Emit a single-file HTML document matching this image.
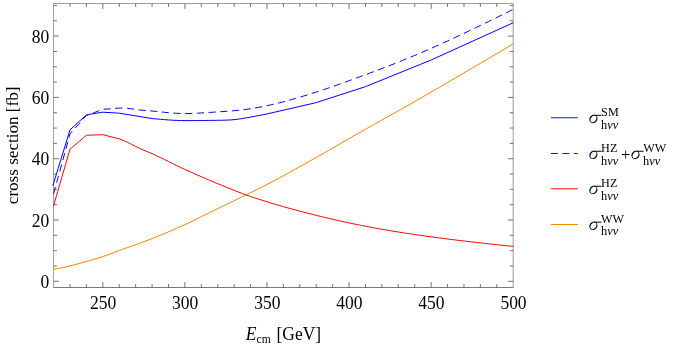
<!DOCTYPE html>
<html><head><meta charset="utf-8"><title>plot</title>
<style>
html,body{margin:0;padding:0;background:#fff;}
svg{display:block;will-change:transform;font-family:"Liberation Serif",serif;font-size:17px;fill:#000;}
</style></head><body>
<svg width="678" height="347" viewBox="0 0 678 347">
<rect width="678" height="347" fill="#fff"/>
<defs><clipPath id="c"><rect x="52.0" y="3.5" width="462.70000000000005" height="284.0"/></clipPath></defs>
<path d="M53.0,3.5 H513.5" fill="none" stroke="#9e9e9e" stroke-width="1"/>
<path d="M53.0,287.5 H513.5" fill="none" stroke="#7a7a7a" stroke-width="1"/>
<path d="M53.5,3.0 V288.0" fill="none" stroke="#a2a2a2" stroke-width="1"/>
<path d="M513.2,3.0 V288.0" fill="none" stroke="#9a9a9a" stroke-width="1"/>
<path d="M70.01,287.5 v-3.4 M70.01,3.5 v3.4 M86.43,287.5 v-3.4 M86.43,3.5 v3.4 M102.84,287.5 v-5.4 M102.84,3.5 v5.4 M119.26,287.5 v-3.4 M119.26,3.5 v3.4 M135.67,287.5 v-3.4 M135.67,3.5 v3.4 M152.09,287.5 v-3.4 M152.09,3.5 v3.4 M168.50,287.5 v-3.4 M168.50,3.5 v3.4 M184.91,287.5 v-5.4 M184.91,3.5 v5.4 M201.33,287.5 v-3.4 M201.33,3.5 v3.4 M217.74,287.5 v-3.4 M217.74,3.5 v3.4 M234.16,287.5 v-3.4 M234.16,3.5 v3.4 M250.57,287.5 v-3.4 M250.57,3.5 v3.4 M266.99,287.5 v-5.4 M266.99,3.5 v5.4 M283.40,287.5 v-3.4 M283.40,3.5 v3.4 M299.81,287.5 v-3.4 M299.81,3.5 v3.4 M316.23,287.5 v-3.4 M316.23,3.5 v3.4 M332.64,287.5 v-3.4 M332.64,3.5 v3.4 M349.06,287.5 v-5.4 M349.06,3.5 v5.4 M365.47,287.5 v-3.4 M365.47,3.5 v3.4 M381.89,287.5 v-3.4 M381.89,3.5 v3.4 M398.30,287.5 v-3.4 M398.30,3.5 v3.4 M414.71,287.5 v-3.4 M414.71,3.5 v3.4 M431.13,287.5 v-5.4 M431.13,3.5 v5.4 M447.54,287.5 v-3.4 M447.54,3.5 v3.4 M463.96,287.5 v-3.4 M463.96,3.5 v3.4 M480.37,287.5 v-3.4 M480.37,3.5 v3.4 M496.79,287.5 v-3.4 M496.79,3.5 v3.4 M53.5,281.30 h5.4 M513.2,281.30 h-5.4 M53.5,265.98 h3.4 M513.2,265.98 h-3.4 M53.5,250.65 h3.4 M513.2,250.65 h-3.4 M53.5,235.33 h3.4 M513.2,235.33 h-3.4 M53.5,220.00 h5.4 M513.2,220.00 h-5.4 M53.5,204.68 h3.4 M513.2,204.68 h-3.4 M53.5,189.35 h3.4 M513.2,189.35 h-3.4 M53.5,174.03 h3.4 M513.2,174.03 h-3.4 M53.5,158.70 h5.4 M513.2,158.70 h-5.4 M53.5,143.38 h3.4 M513.2,143.38 h-3.4 M53.5,128.05 h3.4 M513.2,128.05 h-3.4 M53.5,112.73 h3.4 M513.2,112.73 h-3.4 M53.5,97.40 h5.4 M513.2,97.40 h-5.4 M53.5,82.08 h3.4 M513.2,82.08 h-3.4 M53.5,66.75 h3.4 M513.2,66.75 h-3.4 M53.5,51.43 h3.4 M513.2,51.43 h-3.4 M53.5,36.10 h5.4 M513.2,36.10 h-5.4 M53.5,20.78 h3.4 M513.2,20.78 h-3.4 M53.5,5.45 h3.4 M513.2,5.45 h-3.4" stroke="#4d4d4d" stroke-width="0.8" fill="none"/>
<g clip-path="url(#c)" fill="none" stroke-width="1.0" stroke-linejoin="round">
<path d="M52.80,185.82 L53.60,183.22 L70.01,129.89 L86.43,114.87 L102.84,112.20 L119.26,113.18 L152.09,118.55 L156.19,118.92 L160.29,119.29 L164.40,119.63 L168.50,119.95 L172.60,120.21 L176.71,120.42 L180.81,120.55 L184.91,120.60 L189.02,120.60 L193.12,120.58 L197.22,120.56 L201.33,120.52 L205.43,120.48 L209.54,120.43 L213.64,120.37 L217.74,120.30 L221.85,120.22 L225.95,120.14 L230.05,119.97 L234.16,119.63 L238.26,119.15 L242.36,118.55 L246.47,117.87 L250.57,117.12 L254.68,116.33 L258.78,115.52 L262.88,114.72 L266.99,113.95 L316.23,102.61 L365.47,86.67 L431.13,60.01 L513.20,22.77" stroke="#0000ff"/>
<path d="M53.40,194.37 L53.60,193.64 L57.70,178.78 L61.81,163.85 L65.91,148.85 L70.01,133.79 L74.12,129.29 L78.22,124.74 L82.33,120.15 L86.43,115.51 L90.53,113.98 L94.64,112.43 L98.74,110.84 L102.84,109.23 L106.95,109.07 L111.05,108.76 L115.15,108.39 L119.26,108.07 L123.36,108.02 L127.46,108.33 L131.57,108.83 L135.67,109.35 L139.78,109.98 L143.88,110.39 L147.98,110.70 L152.09,111.02 L156.19,111.42 L160.29,111.85 L164.40,112.31 L168.50,112.69 L172.60,113.02 L176.71,113.30 L180.81,113.50 L184.91,113.61 L189.02,113.56 L193.12,113.42 L197.22,113.21 L201.33,112.96 L205.43,112.69 L209.54,112.42 L213.64,112.16 L217.74,111.90 L221.85,111.62 L225.95,111.33 L230.05,111.03 L234.16,110.70 L238.26,110.32 L242.36,109.88 L246.47,109.35 L250.57,108.74 L254.68,108.07 L258.78,107.34 L262.88,106.55 L266.99,105.70 L271.09,104.80 L275.19,103.85 L279.30,102.85 L283.40,101.80 L287.50,100.70 L291.61,99.54 L295.71,98.36 L299.81,97.16 L303.92,95.94 L308.02,94.68 L312.12,93.40 L316.23,92.09 L320.33,90.75 L324.44,89.39 L328.54,88.00 L332.64,86.59 L336.75,85.16 L340.85,83.70 L344.95,82.22 L349.06,80.71 L353.16,79.23 L357.26,77.73 L361.37,76.22 L365.47,74.70 L369.58,73.18 L373.68,71.65 L377.78,70.10 L381.89,68.55 L385.99,66.97 L390.09,65.38 L394.20,63.77 L398.30,62.14 L402.40,60.49 L406.51,58.82 L410.61,57.13 L414.71,55.41 L418.82,53.67 L422.92,51.92 L427.03,50.14 L431.13,48.35 L435.23,46.54 L439.34,44.71 L443.44,42.87 L447.54,41.02 L451.65,39.13 L455.75,37.22 L459.85,35.29 L463.96,33.36 L468.06,31.41 L472.16,29.46 L476.27,27.49 L480.37,25.52 L484.48,23.53 L488.58,21.53 L492.68,19.52 L496.79,17.50 L500.89,15.47 L504.99,13.42 L509.10,11.36 L513.20,9.28" stroke="#0000ff" stroke-dasharray="7.2 4.5" stroke-dashoffset="-0.4"/>
<path d="M53.40,206.28 L53.60,205.59 L57.70,191.50 L61.81,177.40 L65.91,163.30 L70.01,149.20 L74.12,145.72 L78.22,142.24 L82.33,138.76 L86.43,135.28 L90.53,135.13 L94.64,134.98 L98.74,134.82 L102.84,134.67 L106.95,135.72 L111.05,136.77 L115.15,137.82 L119.26,138.87 L123.36,140.43 L127.46,142.32 L131.57,144.39 L135.67,146.49 L139.78,148.44 L143.88,150.19 L147.98,151.89 L152.09,153.64 L156.19,155.52 L160.29,157.46 L164.40,159.47 L168.50,161.50 L172.60,163.53 L176.71,165.55 L180.81,167.52 L184.91,169.43 L189.02,171.28 L193.12,173.11 L197.22,174.93 L201.33,176.72 L205.43,178.49 L209.54,180.24 L213.64,181.97 L217.74,183.68 L221.85,185.37 L225.95,187.05 L230.05,188.72 L234.16,190.37 L238.26,191.99 L242.36,193.55 L246.47,195.06 L250.57,196.49 L254.68,197.86 L258.78,199.19 L262.88,200.49 L266.99,201.76 L271.09,203.03 L275.19,204.27 L279.30,205.49 L283.40,206.68 L287.50,207.83 L291.61,208.95 L295.71,210.05 L299.81,211.13 L303.92,212.21 L308.02,213.27 L312.12,214.31 L316.23,215.34 L320.33,216.36 L324.44,217.35 L328.54,218.33 L332.64,219.29 L336.75,220.23 L340.85,221.14 L344.95,222.04 L349.06,222.91 L353.16,223.76 L357.26,224.60 L361.37,225.41 L365.47,226.21 L369.58,227.00 L373.68,227.76 L377.78,228.51 L381.89,229.24 L385.99,229.95 L390.09,230.65 L394.20,231.33 L398.30,231.99 L402.40,232.64 L406.51,233.27 L410.61,233.89 L414.71,234.50 L418.82,235.10 L422.92,235.69 L427.03,236.26 L431.13,236.82 L435.23,237.38 L439.34,237.92 L443.44,238.45 L447.54,238.98 L451.65,239.49 L455.75,240.00 L459.85,240.51 L463.96,241.00 L468.06,241.50 L472.16,241.98 L476.27,242.45 L480.37,242.92 L484.48,243.38 L488.58,243.83 L492.68,244.28 L496.79,244.71 L500.89,245.14 L504.99,245.55 L509.10,245.96 L513.20,246.36" stroke="#ff0000"/>
<path d="M53.40,269.38 L53.60,269.35 L57.70,268.58 L61.81,267.75 L65.91,266.85 L70.01,265.89 L74.12,264.87 L78.22,263.80 L82.33,262.68 L86.43,261.53 L90.53,260.33 L94.64,259.10 L98.74,257.84 L102.84,256.57 L106.95,255.17 L111.05,253.64 L115.15,252.05 L119.26,250.50 L123.36,249.01 L127.46,247.54 L131.57,246.08 L135.67,244.62 L139.78,243.15 L143.88,241.66 L147.98,240.12 L152.09,238.54 L156.19,236.92 L160.29,235.26 L164.40,233.56 L168.50,231.83 L172.60,230.07 L176.71,228.28 L180.81,226.45 L184.91,224.60 L189.02,222.69 L193.12,220.71 L197.22,218.68 L201.33,216.64 L205.43,214.60 L209.54,212.58 L213.64,210.59 L217.74,208.61 L221.85,206.63 L225.95,204.66 L230.05,202.69 L234.16,200.72 L238.26,198.73 L242.36,196.73 L246.47,194.72 L250.57,192.70 L254.68,190.67 L258.78,188.63 L262.88,186.55 L266.99,184.45 L271.09,182.30 L275.19,180.12 L279.30,177.92 L283.40,175.70 L287.50,173.46 L291.61,171.20 L295.71,168.94 L299.81,166.67 L303.92,164.39 L308.02,162.09 L312.12,159.78 L316.23,157.46 L320.33,155.12 L324.44,152.78 L328.54,150.43 L332.64,148.08 L336.75,145.72 L340.85,143.36 L344.95,141.00 L349.06,138.64 L353.16,136.29 L357.26,133.94 L361.37,131.61 L365.47,129.28 L369.58,126.96 L373.68,124.64 L377.78,122.34 L381.89,120.04 L385.99,117.74 L390.09,115.44 L394.20,113.13 L398.30,110.83 L402.40,108.52 L406.51,106.20 L410.61,103.87 L414.71,101.53 L418.82,99.18 L422.92,96.82 L427.03,94.46 L431.13,92.09 L435.23,89.71 L439.34,87.33 L443.44,84.94 L447.54,82.55 L451.65,80.16 L455.75,77.77 L459.85,75.37 L463.96,72.97 L468.06,70.57 L472.16,68.16 L476.27,65.75 L480.37,63.34 L484.48,60.92 L488.58,58.50 L492.68,56.08 L496.79,53.66 L500.89,51.23 L504.99,48.79 L509.10,46.36 L513.20,43.92" stroke="#ff8000"/>
</g>
<g><text transform="translate(103.14,308.60) scale(1,1.03)" font-size="17.5" text-anchor="middle">250</text><text transform="translate(185.21,308.60) scale(1,1.03)" font-size="17.5" text-anchor="middle">300</text><text transform="translate(267.29,308.60) scale(1,1.03)" font-size="17.5" text-anchor="middle">350</text><text transform="translate(349.36,308.60) scale(1,1.03)" font-size="17.5" text-anchor="middle">400</text><text transform="translate(431.43,308.60) scale(1,1.03)" font-size="17.5" text-anchor="middle">450</text><text transform="translate(513.50,308.60) scale(1,1.03)" font-size="17.5" text-anchor="middle">500</text></g>
<g><text transform="translate(49.30,287.90) scale(1,1.03)" font-size="17.5" text-anchor="end">0</text><text transform="translate(49.30,226.60) scale(1,1.03)" font-size="17.5" text-anchor="end">20</text><text transform="translate(49.30,165.30) scale(1,1.03)" font-size="17.5" text-anchor="end">40</text><text transform="translate(49.30,104.00) scale(1,1.03)" font-size="17.5" text-anchor="end">60</text><text transform="translate(49.30,42.70) scale(1,1.03)" font-size="17.5" text-anchor="end">80</text></g>
<text transform="translate(245.80,340.30) scale(1,1.03)" font-size="17.5" text-anchor="start"><tspan font-style="italic">E</tspan><tspan font-size="11.6" dy="2.5">cm</tspan><tspan dy="-2.5" dx="1.5"> [GeV]</tspan></text>
<text transform="translate(17.5,204.2) rotate(-90) scale(1,1.03)" font-size="17.1">cross section [fb]</text>
<path d="M550.9,117.75 H577.9" stroke="#0000ff" stroke-width="0.95" fill="none"/>
<path d="M550.9,153.5 H577.9" stroke="#0000ff" stroke-width="0.95" fill="none" stroke-dasharray="7 4.5"/>
<path d="M550.9,188.75 H577.9" stroke="#ff0000" stroke-width="0.95" fill="none"/>
<path d="M550.9,224.5 H577.9" stroke="#ff8000" stroke-width="0.95" fill="none"/>
<g transform="translate(589.1,123.0) scale(1.1)"><path fill="#000" fill-rule="evenodd" d="M6.77,-1.64 L6.37,-1.15 L5.92,-0.73 L5.41,-0.37 L4.87,-0.10 L4.30,0.09 L3.73,0.18 L3.16,0.18 L2.60,0.09 L2.08,-0.10 L1.61,-0.37 L1.19,-0.73 L0.83,-1.15 L0.55,-1.64 L0.36,-2.18 L0.25,-2.75 L0.23,-3.35 L0.30,-3.95 L0.46,-4.55 L0.71,-5.12 L1.03,-5.66 L1.43,-6.15 L1.88,-6.57 L2.39,-6.93 L2.93,-7.20 L3.50,-7.39 L4.07,-7.48 L4.64,-7.48 L5.20,-7.39 L5.72,-7.20 L6.19,-6.93 L6.61,-6.57 L6.97,-6.15 L7.25,-5.66 L7.44,-5.12 L7.55,-4.55 L7.57,-3.95 L7.50,-3.35 L7.34,-2.75 L7.09,-2.18Z M5.88,-2.30 L5.55,-1.88 L5.18,-1.51 L4.78,-1.18 L4.36,-0.92 L3.93,-0.73 L3.50,-0.60 L3.09,-0.56 L2.69,-0.58 L2.32,-0.69 L2.00,-0.86 L1.72,-1.11 L1.50,-1.42 L1.34,-1.78 L1.24,-2.19 L1.21,-2.63 L1.25,-3.10 L1.35,-3.59 L1.52,-4.07 L1.74,-4.55 L2.02,-5.00 L2.35,-5.42 L2.72,-5.79 L3.12,-6.12 L3.54,-6.38 L3.97,-6.57 L4.40,-6.70 L4.81,-6.74 L5.21,-6.72 L5.58,-6.61 L5.90,-6.44 L6.18,-6.19 L6.40,-5.88 L6.56,-5.52 L6.66,-5.11 L6.69,-4.67 L6.65,-4.20 L6.55,-3.71 L6.38,-3.23 L6.16,-2.75Z"/><path d="M4.6,-6.95 H11.2" stroke="#000" stroke-width="0.9" fill="none"/></g><text transform="translate(601.10,116.10) scale(1,1.03)" font-size="12.2" text-anchor="start">SM</text><text transform="translate(601.00,128.60) scale(1,1.03)" font-size="12.4" text-anchor="start">h<tspan font-style="italic">νν</tspan></text>
<g transform="translate(589.1,158.9) scale(1.1)"><path fill="#000" fill-rule="evenodd" d="M6.77,-1.64 L6.37,-1.15 L5.92,-0.73 L5.41,-0.37 L4.87,-0.10 L4.30,0.09 L3.73,0.18 L3.16,0.18 L2.60,0.09 L2.08,-0.10 L1.61,-0.37 L1.19,-0.73 L0.83,-1.15 L0.55,-1.64 L0.36,-2.18 L0.25,-2.75 L0.23,-3.35 L0.30,-3.95 L0.46,-4.55 L0.71,-5.12 L1.03,-5.66 L1.43,-6.15 L1.88,-6.57 L2.39,-6.93 L2.93,-7.20 L3.50,-7.39 L4.07,-7.48 L4.64,-7.48 L5.20,-7.39 L5.72,-7.20 L6.19,-6.93 L6.61,-6.57 L6.97,-6.15 L7.25,-5.66 L7.44,-5.12 L7.55,-4.55 L7.57,-3.95 L7.50,-3.35 L7.34,-2.75 L7.09,-2.18Z M5.88,-2.30 L5.55,-1.88 L5.18,-1.51 L4.78,-1.18 L4.36,-0.92 L3.93,-0.73 L3.50,-0.60 L3.09,-0.56 L2.69,-0.58 L2.32,-0.69 L2.00,-0.86 L1.72,-1.11 L1.50,-1.42 L1.34,-1.78 L1.24,-2.19 L1.21,-2.63 L1.25,-3.10 L1.35,-3.59 L1.52,-4.07 L1.74,-4.55 L2.02,-5.00 L2.35,-5.42 L2.72,-5.79 L3.12,-6.12 L3.54,-6.38 L3.97,-6.57 L4.40,-6.70 L4.81,-6.74 L5.21,-6.72 L5.58,-6.61 L5.90,-6.44 L6.18,-6.19 L6.40,-5.88 L6.56,-5.52 L6.66,-5.11 L6.69,-4.67 L6.65,-4.20 L6.55,-3.71 L6.38,-3.23 L6.16,-2.75Z"/><path d="M4.6,-6.95 H11.2" stroke="#000" stroke-width="0.9" fill="none"/></g><text transform="translate(601.10,152.00) scale(1,1.03)" font-size="12.2" text-anchor="start">HZ</text><text transform="translate(601.00,164.50) scale(1,1.03)" font-size="12.4" text-anchor="start">h<tspan font-style="italic">νν</tspan></text>
<text transform="translate(620.90,159.90) scale(1,1.03)" font-size="16.5" text-anchor="start">+</text>
<g transform="translate(631.2,158.9) scale(1.1)"><path fill="#000" fill-rule="evenodd" d="M6.77,-1.64 L6.37,-1.15 L5.92,-0.73 L5.41,-0.37 L4.87,-0.10 L4.30,0.09 L3.73,0.18 L3.16,0.18 L2.60,0.09 L2.08,-0.10 L1.61,-0.37 L1.19,-0.73 L0.83,-1.15 L0.55,-1.64 L0.36,-2.18 L0.25,-2.75 L0.23,-3.35 L0.30,-3.95 L0.46,-4.55 L0.71,-5.12 L1.03,-5.66 L1.43,-6.15 L1.88,-6.57 L2.39,-6.93 L2.93,-7.20 L3.50,-7.39 L4.07,-7.48 L4.64,-7.48 L5.20,-7.39 L5.72,-7.20 L6.19,-6.93 L6.61,-6.57 L6.97,-6.15 L7.25,-5.66 L7.44,-5.12 L7.55,-4.55 L7.57,-3.95 L7.50,-3.35 L7.34,-2.75 L7.09,-2.18Z M5.88,-2.30 L5.55,-1.88 L5.18,-1.51 L4.78,-1.18 L4.36,-0.92 L3.93,-0.73 L3.50,-0.60 L3.09,-0.56 L2.69,-0.58 L2.32,-0.69 L2.00,-0.86 L1.72,-1.11 L1.50,-1.42 L1.34,-1.78 L1.24,-2.19 L1.21,-2.63 L1.25,-3.10 L1.35,-3.59 L1.52,-4.07 L1.74,-4.55 L2.02,-5.00 L2.35,-5.42 L2.72,-5.79 L3.12,-6.12 L3.54,-6.38 L3.97,-6.57 L4.40,-6.70 L4.81,-6.74 L5.21,-6.72 L5.58,-6.61 L5.90,-6.44 L6.18,-6.19 L6.40,-5.88 L6.56,-5.52 L6.66,-5.11 L6.69,-4.67 L6.65,-4.20 L6.55,-3.71 L6.38,-3.23 L6.16,-2.75Z"/><path d="M4.6,-6.95 H11.2" stroke="#000" stroke-width="0.9" fill="none"/></g><text transform="translate(643.20,152.00) scale(1,1.03)" font-size="12.2" text-anchor="start">WW</text><text transform="translate(643.10,164.50) scale(1,1.03)" font-size="12.4" text-anchor="start">h<tspan font-style="italic">νν</tspan></text>
<g transform="translate(589.1,193.9) scale(1.1)"><path fill="#000" fill-rule="evenodd" d="M6.77,-1.64 L6.37,-1.15 L5.92,-0.73 L5.41,-0.37 L4.87,-0.10 L4.30,0.09 L3.73,0.18 L3.16,0.18 L2.60,0.09 L2.08,-0.10 L1.61,-0.37 L1.19,-0.73 L0.83,-1.15 L0.55,-1.64 L0.36,-2.18 L0.25,-2.75 L0.23,-3.35 L0.30,-3.95 L0.46,-4.55 L0.71,-5.12 L1.03,-5.66 L1.43,-6.15 L1.88,-6.57 L2.39,-6.93 L2.93,-7.20 L3.50,-7.39 L4.07,-7.48 L4.64,-7.48 L5.20,-7.39 L5.72,-7.20 L6.19,-6.93 L6.61,-6.57 L6.97,-6.15 L7.25,-5.66 L7.44,-5.12 L7.55,-4.55 L7.57,-3.95 L7.50,-3.35 L7.34,-2.75 L7.09,-2.18Z M5.88,-2.30 L5.55,-1.88 L5.18,-1.51 L4.78,-1.18 L4.36,-0.92 L3.93,-0.73 L3.50,-0.60 L3.09,-0.56 L2.69,-0.58 L2.32,-0.69 L2.00,-0.86 L1.72,-1.11 L1.50,-1.42 L1.34,-1.78 L1.24,-2.19 L1.21,-2.63 L1.25,-3.10 L1.35,-3.59 L1.52,-4.07 L1.74,-4.55 L2.02,-5.00 L2.35,-5.42 L2.72,-5.79 L3.12,-6.12 L3.54,-6.38 L3.97,-6.57 L4.40,-6.70 L4.81,-6.74 L5.21,-6.72 L5.58,-6.61 L5.90,-6.44 L6.18,-6.19 L6.40,-5.88 L6.56,-5.52 L6.66,-5.11 L6.69,-4.67 L6.65,-4.20 L6.55,-3.71 L6.38,-3.23 L6.16,-2.75Z"/><path d="M4.6,-6.95 H11.2" stroke="#000" stroke-width="0.9" fill="none"/></g><text transform="translate(601.10,187.00) scale(1,1.03)" font-size="12.2" text-anchor="start">HZ</text><text transform="translate(601.00,199.50) scale(1,1.03)" font-size="12.4" text-anchor="start">h<tspan font-style="italic">νν</tspan></text>
<g transform="translate(589.1,229.8) scale(1.1)"><path fill="#000" fill-rule="evenodd" d="M6.77,-1.64 L6.37,-1.15 L5.92,-0.73 L5.41,-0.37 L4.87,-0.10 L4.30,0.09 L3.73,0.18 L3.16,0.18 L2.60,0.09 L2.08,-0.10 L1.61,-0.37 L1.19,-0.73 L0.83,-1.15 L0.55,-1.64 L0.36,-2.18 L0.25,-2.75 L0.23,-3.35 L0.30,-3.95 L0.46,-4.55 L0.71,-5.12 L1.03,-5.66 L1.43,-6.15 L1.88,-6.57 L2.39,-6.93 L2.93,-7.20 L3.50,-7.39 L4.07,-7.48 L4.64,-7.48 L5.20,-7.39 L5.72,-7.20 L6.19,-6.93 L6.61,-6.57 L6.97,-6.15 L7.25,-5.66 L7.44,-5.12 L7.55,-4.55 L7.57,-3.95 L7.50,-3.35 L7.34,-2.75 L7.09,-2.18Z M5.88,-2.30 L5.55,-1.88 L5.18,-1.51 L4.78,-1.18 L4.36,-0.92 L3.93,-0.73 L3.50,-0.60 L3.09,-0.56 L2.69,-0.58 L2.32,-0.69 L2.00,-0.86 L1.72,-1.11 L1.50,-1.42 L1.34,-1.78 L1.24,-2.19 L1.21,-2.63 L1.25,-3.10 L1.35,-3.59 L1.52,-4.07 L1.74,-4.55 L2.02,-5.00 L2.35,-5.42 L2.72,-5.79 L3.12,-6.12 L3.54,-6.38 L3.97,-6.57 L4.40,-6.70 L4.81,-6.74 L5.21,-6.72 L5.58,-6.61 L5.90,-6.44 L6.18,-6.19 L6.40,-5.88 L6.56,-5.52 L6.66,-5.11 L6.69,-4.67 L6.65,-4.20 L6.55,-3.71 L6.38,-3.23 L6.16,-2.75Z"/><path d="M4.6,-6.95 H11.2" stroke="#000" stroke-width="0.9" fill="none"/></g><text transform="translate(601.10,222.90) scale(1,1.03)" font-size="12.2" text-anchor="start">WW</text><text transform="translate(601.00,235.40) scale(1,1.03)" font-size="12.4" text-anchor="start">h<tspan font-style="italic">νν</tspan></text>
</svg>
</body></html>
